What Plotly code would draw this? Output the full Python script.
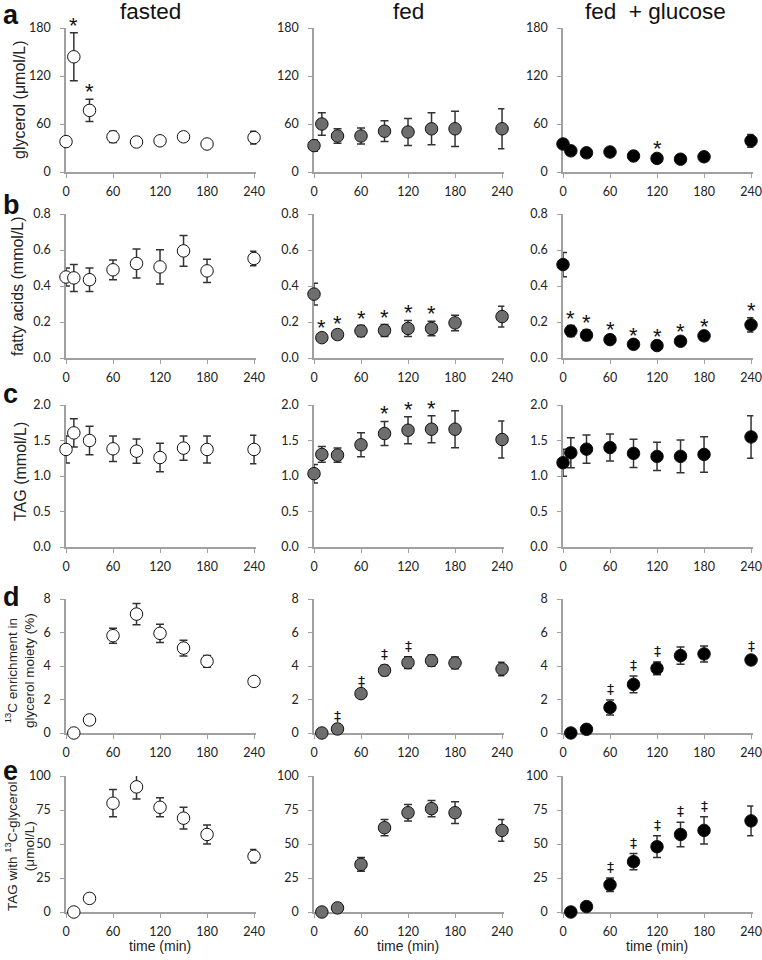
import plotly.graph_objects as go

W, H = 762, 960

conditions = ["fasted", "fed", "fed\u00a0 + glucose"]
row_letters = ["a", "b", "c", "d", "e"]
y_titles = ["glycerol (μmol/L)", "fatty acids (mmol/L)", "TAG (mmol/L)",
            "<sup>13</sup>C enrichment in<br>glycerol moiety (%)",
            "TAG with <sup>13</sup>C-glycerol<br>(μmol/L)"]

times_abc = [0, 10, 30, 60, 90, 120, 150, 180, 240]
times_de = [10, 30, 60, 90, 120, 150, 180, 240]
x_ticks = [0, 60, 120, 180, 240]

# a: glycerol (umol/L)
gly_fasted = [38, 144, 77, 44, 37.5, 39, 44, 35, 43]
gly_fasted_err = [3, 30, 14, 7, 5, 5, 5, 4, 8]
gly_fed = [33, 60, 45, 45, 51, 50, 54, 54, 54]
gly_fed_err = [7, 14, 9, 10, 13, 17, 20, 22, 25]
gly_glc = [35, 26.5, 24, 25, 20, 17, 16, 19, 39]
gly_glc_err = [6, 3, 3, 3, 3, 3, 5, 4, 8]

# b: fatty acids (mmol/L)
fa_fasted = [0.45, 0.445, 0.435, 0.49, 0.525, 0.506, 0.595, 0.484, 0.553]
fa_fasted_err = [0.05, 0.075, 0.065, 0.055, 0.08, 0.095, 0.085, 0.065, 0.04]
fa_fed = [0.355, 0.113, 0.13, 0.15, 0.153, 0.164, 0.164, 0.195, 0.23]
fa_fed_err = [0.06, 0.015, 0.02, 0.03, 0.033, 0.045, 0.04, 0.043, 0.058]
fa_glc = [0.519, 0.15, 0.127, 0.102, 0.076, 0.069, 0.093, 0.123, 0.184]
fa_glc_err = [0.067, 0.03, 0.03, 0.015, 0.01, 0.01, 0.01, 0.012, 0.04]

# c: TAG (mmol/L)
tag_fasted = [1.374, 1.607, 1.5, 1.383, 1.35, 1.26, 1.393, 1.374, 1.374]
tag_fasted_err = [0.19, 0.2, 0.2, 0.18, 0.17, 0.2, 0.17, 0.19, 0.2]
tag_fed = [1.033, 1.304, 1.294, 1.44, 1.598, 1.645, 1.659, 1.659, 1.514]
tag_fed_err = [0.13, 0.11, 0.1, 0.17, 0.17, 0.19, 0.19, 0.26, 0.26]
tag_glc = [1.187, 1.327, 1.378, 1.4, 1.318, 1.276, 1.276, 1.304, 1.55]
tag_glc_err = [0.19, 0.21, 0.2, 0.19, 0.2, 0.2, 0.23, 0.25, 0.3]

# d: 13C enrichment in glycerol moiety (%)
enr_fasted = [0, 0.78, 5.81, 7.1, 5.95, 5.07, 4.28, 3.08]
enr_fasted_err = [0, 0.05, 0.45, 0.63, 0.55, 0.47, 0.35, 0.15]
enr_fed = [0, 0.24, 2.35, 3.74, 4.2, 4.32, 4.18, 3.82]
enr_fed_err = [0, 0.1, 0.1, 0.3, 0.35, 0.33, 0.35, 0.4]
enr_glc = [0, 0.22, 1.52, 2.9, 3.86, 4.62, 4.72, 4.36]
enr_glc_err = [0, 0.05, 0.45, 0.5, 0.38, 0.52, 0.48, 0.2]

# e: TAG with 13C-glycerol (umol/L)
lab_fasted = [0, 10, 80, 92, 77, 69, 57, 41]
lab_fasted_err = [0, 1.5, 10, 9, 7, 8, 7, 5]
lab_fed = [0, 3, 35, 62, 73, 76, 73, 60]
lab_fed_err = [0, 1, 5, 6, 6, 6, 8, 8]
lab_glc = [0, 4, 20, 37, 48, 57, 60, 67]
lab_glc_err = [0, 1, 5, 6, 8, 9, 10, 11]

# significance marks (time points)
sig = {
    (0, 0): ("*", [10, 30]), (0, 2): ("*", [120]),
    (1, 1): ("*", [10, 30, 60, 90, 120, 150]),
    (1, 2): ("*", [10, 30, 60, 90, 120, 150, 180, 240]),
    (2, 1): ("*", [90, 120, 150]),
    (3, 1): ("‡", [30, 60, 90, 120]),
    (3, 2): ("‡", [60, 90, 120, 240]),
    (4, 2): ("‡", [60, 90, 120, 150, 180]),
}

rows = [
    (times_abc, [(gly_fasted, gly_fasted_err), (gly_fed, gly_fed_err), (gly_glc, gly_glc_err)], [0, 180], [0, 60, 120, 180], "d"),
    (times_abc, [(fa_fasted, fa_fasted_err), (fa_fed, fa_fed_err), (fa_glc, fa_glc_err)], [0, 0.8], [0, 0.2, 0.4, 0.6, 0.8], ".1f"),
    (times_abc, [(tag_fasted, tag_fasted_err), (tag_fed, tag_fed_err), (tag_glc, tag_glc_err)], [0, 2.0], [0, 0.5, 1.0, 1.5, 2.0], ".1f"),
    (times_de, [(enr_fasted, enr_fasted_err), (enr_fed, enr_fed_err), (enr_glc, enr_glc_err)], [0, 8], [0, 2, 4, 6, 8], "d"),
    (times_de, [(lab_fasted, lab_fasted_err), (lab_fed, lab_fed_err), (lab_glc, lab_glc_err)], [0, 100], [0, 25, 50, 75, 100], "d"),
]

fills = ["white", "#6e6e6e", "black"]
# layout positions in screen pixels
col_px = [(66, 256.4), (314, 504.4), (563, 753.4)]
row_px = [(28, 172), (214, 358), (405, 547), (599, 733), (776, 912)]
title_cx = [150, 408, 655]
ytitle_size = [16, 16, 16, 13.5, 13.5]
ytitle_x = [20, 18, 20, 19, 19]
ytitle_yc = [100, 286, 472, 671, 846]
letter_y = [15, 205, 394, 597, 771]

AXIS_COL = "#a0a0a0"
TICK_FONT = dict(family="Lato, Carlito, sans-serif", size=12.5, color="#222")
ARIAL = "Liberation Sans, Arial, sans-serif"

fig = go.Figure()
layout = {}
annotations = []

def px_x(p):
    return p / W

def px_y(p):
    return 1 - p / H

for r, (times, series, yr, yt, fmt) in enumerate(rows):
    for c in range(3):
        idx = r * 3 + c + 1
        xa = "x" if idx == 1 else f"x{idx}"
        ya = "y" if idx == 1 else f"y{idx}"
        vals, errs = series[c]
        fig.add_trace(go.Scatter(
            x=times, y=vals, xaxis=xa, yaxis=ya, mode="markers",
            marker=dict(size=12.5, color=fills[c], line=dict(color="#111", width=1)),
            error_y=dict(type="data", array=errs, visible=True, color="#333",
                         thickness=1.5, width=4),
            cliponaxis=False, showlegend=False, hoverinfo="skip"))
        x0, x1 = col_px[c]
        y0, y1 = row_px[r]
        xkey = "xaxis" if idx == 1 else f"xaxis{idx}"
        ykey = "yaxis" if idx == 1 else f"yaxis{idx}"
        layout[xkey] = dict(
            domain=[px_x(x0), min(1, px_x(x1))], anchor=ya, range=[0, 243],
            tickvals=x_ticks, ticks="outside", ticklen=4, tickcolor=AXIS_COL,
            showline=True, linecolor=AXIS_COL, linewidth=1.5, showgrid=False,
            zeroline=False, tickfont=TICK_FONT, layer="below traces",
            ticklabelstandoff=3, automargin=False)
        layout[ykey] = dict(
            domain=[px_y(y1), px_y(y0)], anchor=xa, range=yr,
            tickvals=yt, tickformat=fmt, ticks="outside", ticklen=4, tickcolor=AXIS_COL,
            showline=True, linecolor=AXIS_COL, linewidth=1.5, showgrid=False,
            zeroline=False, tickfont=TICK_FONT, layer="below traces",
            ticklabelstandoff=7, automargin=False)
        if (r, c) in sig:
            sym, pts = sig[(r, c)]
            for t in pts:
                i = times.index(t)
                annotations.append(dict(
                    x=t, y=vals[i] + errs[i], xref=xa, yref=ya,
                    text=sym, showarrow=False, yanchor="bottom",
                    yshift=-7 if sym == "*" else 1,
                    font=dict(family=ARIAL if sym == "*" else "DejaVu Sans, sans-serif",
                              size=22 if sym == "*" else 14, color="#111")))

# column titles
for c, name in enumerate(conditions):
    annotations.append(dict(x=px_x(title_cx[c]), y=px_y(12), xref="paper", yref="paper",
                            text=name, showarrow=False, xanchor="center", yanchor="middle",
                            font=dict(family=ARIAL, size=22.5, color="#111")))
    cx = col_px[c][0] + 120 * (col_px[c][1] - col_px[c][0]) / 243
    annotations.append(dict(x=px_x(cx), y=px_y(946), xref="paper", yref="paper",
                            text="time (min)", showarrow=False, xanchor="center", yanchor="middle",
                            font=dict(family=ARIAL, size=14, color="#222")))

# panel letters and y titles
for r in range(5):
    annotations.append(dict(x=px_x(1), y=px_y(letter_y[r]), xref="paper", yref="paper",
                            text=f"<b>{row_letters[r]}</b>", showarrow=False,
                            xanchor="left", yanchor="middle",
                            font=dict(family=ARIAL, size=27, color="#111")))
    annotations.append(dict(x=px_x(ytitle_x[r]), y=px_y(ytitle_yc[r]), xref="paper", yref="paper",
                            text=y_titles[r], showarrow=False, textangle=-90,
                            xanchor="center", yanchor="middle",
                            font=dict(family=ARIAL, size=ytitle_size[r], color="#222")))

fig.update_layout(width=W, height=H, margin=dict(l=0, r=0, t=0, b=0, autoexpand=False),
                  paper_bgcolor="white", plot_bgcolor="white",
                  annotations=annotations, **layout)

# remove the browser's default 8px body margin so the figure sits at the window corner
fig.write_html("out.html", config={"displayModeBar": False},
               post_script="document.body.style.margin='0px';document.body.style.overflow='hidden';")
